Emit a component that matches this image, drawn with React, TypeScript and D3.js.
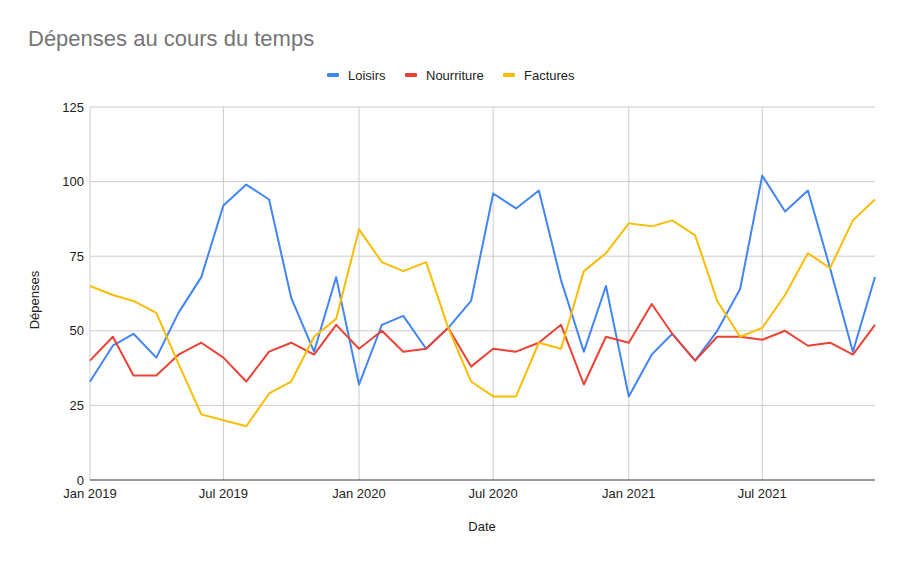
import React from "react";
import * as d3 from "d3";

const startYear = 2019;
const monthCount = 36;
const loisirs = [33,45,49,41,56,68,92,99,94,61,43,68,32,52,55,44,51,60,96,91,97,67,43,65,28,42,49,40,50,64,102,90,97,71,43,68];
const nourriture = [40,48,35,35,42,46,41,33,43,46,42,52,44,50,43,44,51,38,44,43,46,52,32,48,46,59,49,40,48,48,47,50,45,46,42,52];
const factures = [65,62,60,56,39,22,20,18,29,33,48,54,84,73,70,73,51,33,28,28,46,44,70,76,86,85,87,82,60,48,51,62,76,71,87,94];
const seriesNames = ["Loisirs", "Nourriture", "Factures"];
const seriesColors = ["#4285f4", "#ea4335", "#fbbc04"];
const yTicks = [0, 25, 50, 75, 100, 125];
const xTickLabels = ["Jan 2019", "Jul 2019", "Jan 2020", "Jul 2020", "Jan 2021", "Jul 2021"];
const xTickMonths = [0, 6, 12, 18, 24, 30];

const W = 904, H = 562;
const M = { left: 90, right: 875, top: 107, bottom: 480 };
const FONT = "Arial, 'Liberation Sans', sans-serif";

export default function App() {
  const dates = d3.range(monthCount).map((i) => new Date(startYear, i, 1));
  const x = d3.scaleTime().domain([dates[0], dates[monthCount - 1]]).range([M.left, M.right]);
  const y = d3.scaleLinear().domain([0, 125]).range([M.bottom, M.top]);
  const allSeries = [loisirs, nourriture, factures];
  const line = d3.line<number>().x((_, i) => x(dates[i])).y((d) => y(d));
  const legendX = [327, 405, 503];

  return (
    <svg width={W} height={H} style={{ position: "absolute", left: 0, top: 0, background: "#fff" }}>
      <rect width={W} height={H} fill="#fff" />
      <text x={28} y={46} fontFamily={FONT} fontSize={22} fill="#757575">Dépenses au cours du temps</text>
      {seriesNames.map((n, i) => (
        <g key={n}>
          <rect x={legendX[i]} y={73} width={12} height={4} fill={seriesColors[i]} rx={1} />
          <text x={legendX[i] + 21} y={80} fontFamily={FONT} fontSize={13} fill="#222">{n}</text>
        </g>
      ))}
      {yTicks.map((t) => (
        <g key={t}>
          {t > 0 && <line x1={M.left} x2={M.right} y1={y(t)} y2={y(t)} stroke="#cccccc" strokeWidth={1} />}
          <text x={84} y={y(t) + 4.5} textAnchor="end" fontFamily={FONT} fontSize={13} fill="#222">{t}</text>
        </g>
      ))}
      <line x1={M.left} x2={M.left} y1={M.top} y2={M.bottom} stroke="#cccccc" />
      {xTickMonths.map((m, i) => (
        <g key={m}>
          {m > 0 && <line x1={x(dates[m])} x2={x(dates[m])} y1={M.top} y2={M.bottom} stroke="#cccccc" />}
          <text x={x(dates[m])} y={498} textAnchor="middle" fontFamily={FONT} fontSize={13} fill="#222">{xTickLabels[i]}</text>
        </g>
      ))}
      {allSeries.map((s, i) => (
        <path key={i} d={line(s) || ""} fill="none" stroke={seriesColors[i]} strokeWidth={2} strokeLinejoin="round" />
      ))}
      <line x1={M.left} x2={M.right} y1={M.bottom} y2={M.bottom} stroke="#333" strokeWidth={1} />
      <text x={482} y={531} textAnchor="middle" fontFamily={FONT} fontSize={13} fill="#222">Date</text>
      <text transform="translate(39,300) rotate(-90)" textAnchor="middle" fontFamily={FONT} fontSize={13} fill="#222">Dépenses</text>
    </svg>
  );
}
